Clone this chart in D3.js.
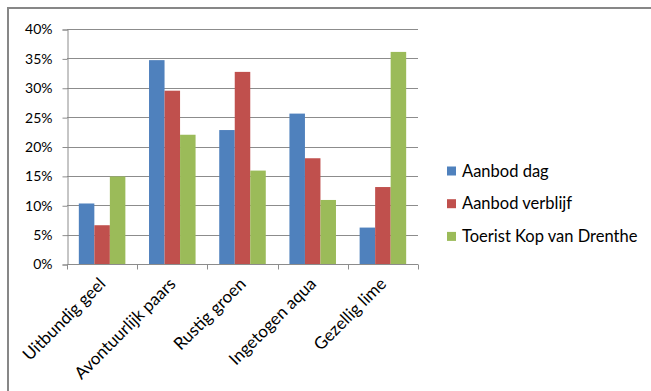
<!DOCTYPE html>
<html>
<head>
<meta charset="utf-8">
<script src="https://cdn.jsdelivr.net/npm/d3@7"></script>
<style>
  body { margin: 0; background: #fff; }
  svg text { font-family: Lato, "Open Sans", sans-serif; fill: #000; }
</style>
</head>
<body>
<div id="chart"></div>
<script>
const categories = ["Uitbundig geel", "Avontuurlijk paars", "Rustig groen", "Ingetogen aqua", "Gezellig lime"];
const seriesNames = ["Aanbod dag", "Aanbod verblijf", "Toerist Kop van Drenthe"];
const aanbodDag = [0.103, 0.347, 0.228, 0.256, 0.062];
const aanbodVerblijf = [0.066, 0.295, 0.327, 0.180, 0.131];
const toeristKop = [0.149, 0.220, 0.159, 0.109, 0.361];
const colors = ["#4F81BD", "#C0504D", "#9BBB59"];
const yTicks = [0, 0.05, 0.1, 0.15, 0.2, 0.25, 0.3, 0.35, 0.4];

const seriesValues = [aanbodDag, aanbodVerblijf, toeristKop];
const width = 651, height = 391;
const plot = { left: 67, right: 418, top: 29, bottom: 264 };

const svg = d3.select("#chart").append("svg")
    .attr("width", width)
    .attr("height", height);

// kader rond de grafiek
svg.append("rect")
    .attr("x", 8).attr("y", 8)
    .attr("width", 700).attr("height", 500)
    .attr("fill", "#fff")
    .attr("stroke", "#878787")
    .attr("stroke-width", 2);

const x0 = d3.scaleBand()
    .domain(categories)
    .range([plot.left, plot.right])
    .paddingInner(0.337)
    .paddingOuter(0.1685);

const x1 = d3.scaleBand()
    .domain(seriesNames)
    .range([0, x0.bandwidth()]);

const y = d3.scaleLinear()
    .domain([0, 0.4])
    .range([plot.bottom, plot.top]);

// rasterlijnen
svg.append("g")
    .selectAll("line")
    .data(yTicks.slice(1))
    .join("line")
    .attr("x1", plot.left).attr("x2", plot.right)
    .attr("y1", d => Math.round(y(d)) + 0.5)
    .attr("y2", d => Math.round(y(d)) + 0.5)
    .attr("stroke", "#8c8c8c")
    .attr("stroke-width", 1);

// staven
const groups = svg.append("g")
    .selectAll("g")
    .data(categories)
    .join("g")
    .attr("transform", d => `translate(${x0(d)},0)`);

groups.selectAll("rect")
    .data((c, i) => seriesNames.map((s, k) => ({ s, k, v: seriesValues[k][i] })))
    .join("rect")
    .attr("x", d => x1(d.s))
    .attr("width", x1.bandwidth())
    .attr("y", d => y(d.v))
    .attr("height", d => y(0) - y(d.v))
    .attr("fill", d => colors[d.k]);

// y-as
const yAxis = d3.axisLeft(y)
    .tickValues(yTicks)
    .tickFormat(d3.format(".0%"))
    .tickSize(5)
    .tickPadding(10);

const gY = svg.append("g")
    .attr("transform", `translate(${plot.left + 0.5},0.5)`)
    .call(yAxis);
gY.selectAll("path, line").attr("stroke", "#8c8c8c");
gY.selectAll("text").style("font-size", "14px");

// x-as
const gX = svg.append("g")
    .attr("transform", `translate(0,${plot.bottom + 0.5})`);
gX.append("line")
    .attr("x1", plot.left).attr("x2", plot.right)
    .attr("stroke", "#8c8c8c");
const xTickPos = categories.map(c => x0(c) - x0.step() * x0.paddingInner() / 2);
xTickPos.push(plot.right);
gX.selectAll(".tk")
    .data(xTickPos)
    .join("line")
    .attr("class", "tk")
    .attr("x1", d => Math.round(d) + 0.5).attr("x2", d => Math.round(d) + 0.5)
    .attr("y1", 0).attr("y2", 5)
    .attr("stroke", "#8c8c8c");

gX.selectAll(".lbl")
    .data(categories)
    .join("text")
    .attr("class", "lbl")
    .attr("transform", d => `translate(${x0(d) + x0.bandwidth() / 2 - 4},${12}) rotate(-45)`)
    .attr("text-anchor", "end")
    .attr("dy", "0.7em")
    .style("font-size", "17px")
    .text(d => d);

// legenda
const legend = svg.append("g")
    .selectAll("g")
    .data(seriesNames)
    .join("g")
    .attr("transform", (d, i) => `translate(447,${171 + i * 32.7})`);
legend.append("rect")
    .attr("x", 0).attr("y", -4.5)
    .attr("width", 9).attr("height", 9)
    .attr("fill", (d, i) => colors[i]);
legend.append("text")
    .attr("x", 15)
    .attr("dy", "0.35em")
    .style("font-size", "16.5px")
    .text(d => d);
</script>
</body>
</html>
